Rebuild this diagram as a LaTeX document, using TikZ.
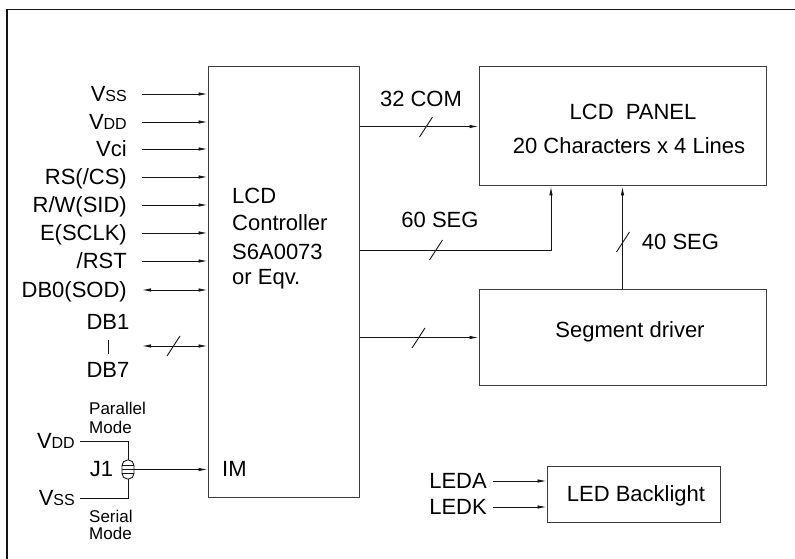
\documentclass[tikz,border=0pt]{standalone}
\usepackage{fontspec}
\setmainfont{Liberation Sans}
\usetikzlibrary{arrows.meta}
\definecolor{ink}{RGB}{20,20,20}
\definecolor{edge}{RGB}{60,60,60}
\newcommand{\lsize}{\fontsize{22bp}{26bp}\selectfont}
\newcommand{\ssize}{\fontsize{17bp}{19bp}\selectfont}
\newcommand{\subcap}[1]{{\fontsize{16bp}{18bp}\selectfont #1}}

\begin{document}
\begin{tikzpicture}[x=1bp, y=-1bp,
  blk/.style={draw=edge, line width=1bp, inner sep=0pt},
  lab/.style={inner sep=0pt, text height=15.75bp, text depth=0pt, font=\lsize},
  note/.style={inner sep=0pt, text height=12.2bp, text depth=0pt, font=\ssize, anchor=west},
  wire/.style={draw=ink, line width=0.9bp},
  arr/.style={wire, -{Latex[length=9bp,width=3.5bp]}},
  darr/.style={wire, {Latex[length=9bp,width=3.5bp]}-{Latex[length=9bp,width=3.5bp]}},
  bus/.pic={\draw[wire] (-6.5,10) -- (6.5,-10);}]

\useasboundingbox (0,0) rectangle (795,559);
% outer frame
\draw[ink, line width=1.4bp] (7,565) -- (7,9.5) -- (800,9.5);

% blocks
\node[blk, minimum width=151bp, minimum height=430bp] (ctrl) at (283.5,282) {};
\node[blk, minimum width=287bp, minimum height=119bp] (panel) at (622.5,126.5) {};
\node[blk, minimum width=287bp, minimum height=95bp] (segdrv) at (622.5,337.5) {};
\node[blk, minimum width=173bp, minimum height=56bp] (led) at (633.5,494) {};

% block texts
\foreach \y/\t [count=\k] in {196/LCD, 223/Controller, 252/S6A0073, 277/{or Eqv.}}
  \node[lab, anchor=west] (ctl\k) at (232,\y) {\t};
\node[lab, anchor=west] (im) at (222,469) {IM};
\node[lab] (paneltop) at (633,112) {LCD~ PANEL};
\node[lab] (panelbot) at (629,146) {20 Characters x 4 Lines};
\node[lab] (segtxt) at (630,330) {Segment driver};
\node[lab] (ledtxt) at (636,494) {LED Backlight};

% controller inputs
\foreach \y/\t [count=\k] in {94/V\subcap{SS}, 122/V\subcap{DD}, 149/{Vci\hspace{7bp}}, 177/{RS(/CS)}, 205/{R/W(SID)}, 233/E(SCLK), 261/{/RST}} {
  \node[lab, anchor=east] (in\k) at (127,\y) {\t};
  \draw[arr] ([xshift=15bp]in\k.east) -- (ctrl.west |- in\k.east);
}

% data bus
\node[lab, anchor=east] (db0) at (127,290) {DB0(SOD)};
\draw[darr] ([xshift=15bp]db0.east) -- (ctrl.west |- db0.east);
\node[lab] (db1) at (108,322) {DB1};
\node[lab] (db7) at (108,370) {DB7};
\draw[wire, line width=0.6bp] ([yshift=-10bp]db1.south) -- ([yshift=8bp]db7.north);
\coordinate (dbbus) at (142,346);
\draw[darr] (dbbus) -- (ctrl.west |- dbbus);
\pic at (173.5,346) {bus};

% jumper J1
\node[lab, anchor=east] (jvdd) at (75,441) {V\subcap{DD}};
\node[lab, anchor=east] (jvss) at (75,498) {V\subcap{SS}};
\node[draw=ink, line width=0.9bp, rounded corners=5.5bp, minimum width=12bp, minimum height=19bp, inner sep=0pt] (jmp) at (128,469.5) {};
\foreach \d in {-4,0,4}
  \draw[wire] ([yshift=\d bp]jmp.west) -- ([yshift=\d bp]jmp.east);
\draw[wire] ([xshift=5bp]jvdd.east) -| (jmp.north);
\draw[wire] ([xshift=5bp]jvss.east) -| (jmp.south);
\draw[arr] (jmp.east) -- (ctrl.west |- jmp.east);
\node[lab] (j1) at (101.5,469) {J1};
\node[note] (par1) at (89,408) {Parallel};
\node[note] (par2) at (89,427) {Mode};
\node[note] (ser1) at (89,516) {Serial};
\node[note] (ser2) at (89,533) {Mode};

% outputs
\draw[arr] (ctrl.east |- panel.west) -- (panel.west);
\pic at (426,127) {bus};
\node[lab] (com) at (421,99) {32 COM};

\coordinate (seg60) at (551,250);
\draw[arr] (ctrl.east |- seg60) -| (seg60 |- panel.south);
\pic at (436,250) {bus};
\node[lab] (seg60txt) at (440,220) {60 SEG};

\draw[arr] (segdrv.north) -- (segdrv.north |- panel.south);
\pic at (623,242) {bus};
\node[lab] (seg40txt) at (680.5,242) {40 SEG};

\draw[arr] (ctrl.east |- segdrv.west) -- (segdrv.west);
\pic at (418.5,338) {bus};

% backlight
\foreach \y/\t [count=\k] in {481/LEDA, 507/LEDK} {
  \node[lab, anchor=east] (led\k) at (487,\y) {\t};
  \draw[arr] ([xshift=6bp]led\k.east) -- (led.west |- led\k.east);
}
\end{tikzpicture}
\end{document}
